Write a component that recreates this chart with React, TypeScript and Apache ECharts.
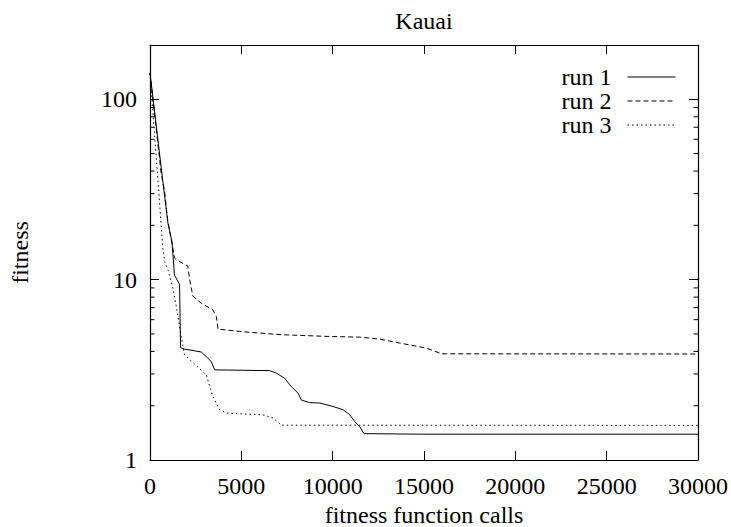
import React, { useEffect, useRef } from "react";
import * as echarts from "echarts";

const title = "Kauai";
const xName = "fitness function calls";
const yName = "fitness";
const seriesNames = ["run 1", "run 2", "run 3"];

const xMin = 0;
const xMax = 30000;
const xInterval = 5000;
const yMin = 1;
const yMax = 200;
const yLabels = [1, 10, 100];
const yMinorTicks = [2, 3, 4, 5, 6, 7, 8, 9, 20, 30, 40, 50, 60, 70, 80, 90];

const run1Calls = [0, 690, 980, 1200, 1340, 1620, 1670, 1890, 2810, 3350, 3540, 6550, 6920, 7370, 7740, 8100, 8290, 8740, 9290, 10020, 10570, 10940, 11210, 11490, 11670, 11750, 15000, 30000];
const run1Fitness = [140, 36, 20.6, 16.3, 10.6, 9.4, 4.2, 4.12, 3.97, 3.52, 3.16, 3.13, 3.03, 2.84, 2.55, 2.35, 2.15, 2.08, 2.07, 1.98, 1.9, 1.78, 1.63, 1.53, 1.42, 1.4, 1.39, 1.39];

const run2Calls = [0, 610, 795, 976, 1250, 1340, 1440, 1620, 2070, 2165, 2346, 2810, 3440, 3630, 3720, 4900, 7190, 9840, 11490, 12580, 13680, 15140, 15960, 30000];
const run2Fitness = [140, 39, 31, 21, 15, 13.2, 12.9, 12.6, 11.9, 10.1, 8.1, 7.4, 6.8, 6.25, 5.32, 5.16, 4.95, 4.84, 4.8, 4.68, 4.45, 4.17, 3.88, 3.87];

const run3Calls = [0, 430, 520, 700, 800, 1000, 1250, 1450, 1710, 1890, 3080, 3440, 3810, 4180, 6180, 6730, 7190, 30000];
const run3Fitness = [140, 36, 27, 15, 12.6, 11.2, 9.0, 7.0, 4.84, 3.83, 2.97, 2.25, 1.9, 1.82, 1.78, 1.71, 1.56, 1.555];

const runs = [
  { calls: run1Calls, fitness: run1Fitness, dash: "solid" as any },
  { calls: run2Calls, fitness: run2Fitness, dash: [5, 3] as any },
  { calls: run3Calls, fitness: run3Fitness, dash: [1.5, 3] as any },
];

const FONT = "Liberation Serif";
const FS = 24;

export default function App() {
  const ref = useRef<HTMLDivElement>(null);
  useEffect(() => {
    if (!ref.current) return;
    const chart = echarts.init(ref.current, null, { renderer: "svg" });
    const axisLine = { show: true, onZero: false, lineStyle: { color: "#000", width: 1.2 } };
    const tick = { show: true, inside: true, length: 9, lineStyle: { color: "#000", width: 1 } };
    const option: any = {
      animation: false,
      backgroundColor: "#fff",
      textStyle: { fontFamily: FONT, color: "#000" },
      grid: { left: 150, top: 45, right: 33, bottom: 67, containLabel: false, outerBoundsMode: "none" },
      graphic: [
        {
          type: "text",
          x: 424,
          y: 21,
          style: {
            text: title,
            font: `${FS}px "${FONT}"`,
            fill: "#000",
            textAlign: "center",
            textVerticalAlign: "middle",
          },
        },
      ],
      legend: {
        data: seriesNames,
        orient: "vertical",
        align: "right",
        right: 55,
        top: 65,
        padding: 0,
        itemGap: 0,
        itemWidth: 48,
        itemHeight: 12,
        itemStyle: { color: "rgba(0,0,0,0)", borderColor: "rgba(0,0,0,0)", borderWidth: 0, opacity: 0 },
        lineStyle: { width: 1 },
        textStyle: { fontFamily: FONT, fontSize: FS, color: "#000", padding: [0, 11, 0, 0] },
      },
      xAxis: [
        {
          type: "value",
          min: xMin,
          max: xMax,
          interval: xInterval,
          position: "bottom",
          axisLine,
          axisTick: tick,
          axisLabel: { fontFamily: FONT, fontSize: FS, color: "#000", margin: 14, formatter: (v: number) => String(v) },
          splitLine: { show: false },
          name: xName,
          nameLocation: "middle",
          nameGap: 35,
          nameTextStyle: { fontFamily: FONT, fontSize: FS, color: "#000" },
        },
        {
          type: "value",
          min: xMin,
          max: xMax,
          interval: xInterval,
          position: "top",
          axisLine,
          axisTick: tick,
          axisLabel: { show: false },
          splitLine: { show: false },
        },
      ],
      yAxis: [
        {
          type: "log",
          logBase: 10,
          min: yMin,
          max: yMax,
          position: "left",
          axisLine,
          axisTick: tick,
          axisLabel: {
            fontFamily: FONT,
            fontSize: FS,
            color: "#000",
            margin: 13,
            formatter: (v: number) => (yLabels.some((l) => Math.abs(l - v) < 1e-6) ? String(v) : ""),
          },
          splitLine: { show: false },
          name: yName,
          nameLocation: "middle",
          nameGap: 118,
          nameTextStyle: { fontFamily: FONT, fontSize: FS, color: "#000" },
        },
        {
          type: "log",
          logBase: 10,
          min: yMin,
          max: yMax,
          position: "right",
          axisLine,
          axisTick: tick,
          axisLabel: { show: false },
          splitLine: { show: false },
        },
      ],
      series: [
        ...runs.map((r, i) => ({
          name: seriesNames[i],
          type: "line",
          xAxisIndex: 0,
          yAxisIndex: 0,
          showSymbol: false,
          symbol: "none",
          data: r.calls.map((c, j) => [c, r.fitness[j]]),
          lineStyle: { color: "#000", width: 1, type: r.dash },
          itemStyle: { color: "#000" },
        })),
        {
          name: "minorTicks",
          type: "custom",
          xAxisIndex: 0,
          yAxisIndex: 0,
          silent: true,
          clip: false,
          encode: { x: 0, y: 1 },
          data: yMinorTicks.map((v) => [xMin, v]),
          renderItem: (params: any, api: any) => {
            const v = api.value(1);
            const pL = api.coord([xMin, v]);
            const pR = api.coord([xMax, v]);
            return {
              type: "group",
              children: [
                { type: "line", shape: { x1: pL[0], y1: pL[1], x2: pL[0] + 4.5, y2: pL[1] }, style: { stroke: "#000", lineWidth: 1 } },
                { type: "line", shape: { x1: pR[0] - 4.5, y1: pR[1], x2: pR[0], y2: pR[1] }, style: { stroke: "#000", lineWidth: 1 } },
              ],
            };
          },
        },
      ],
    };
    chart.setOption(option);
    return () => chart.dispose();
  }, []);
  return <div ref={ref} style={{ position: "fixed", left: 0, top: 0, width: 731, height: 527, background: "#fff" }} />;
}
